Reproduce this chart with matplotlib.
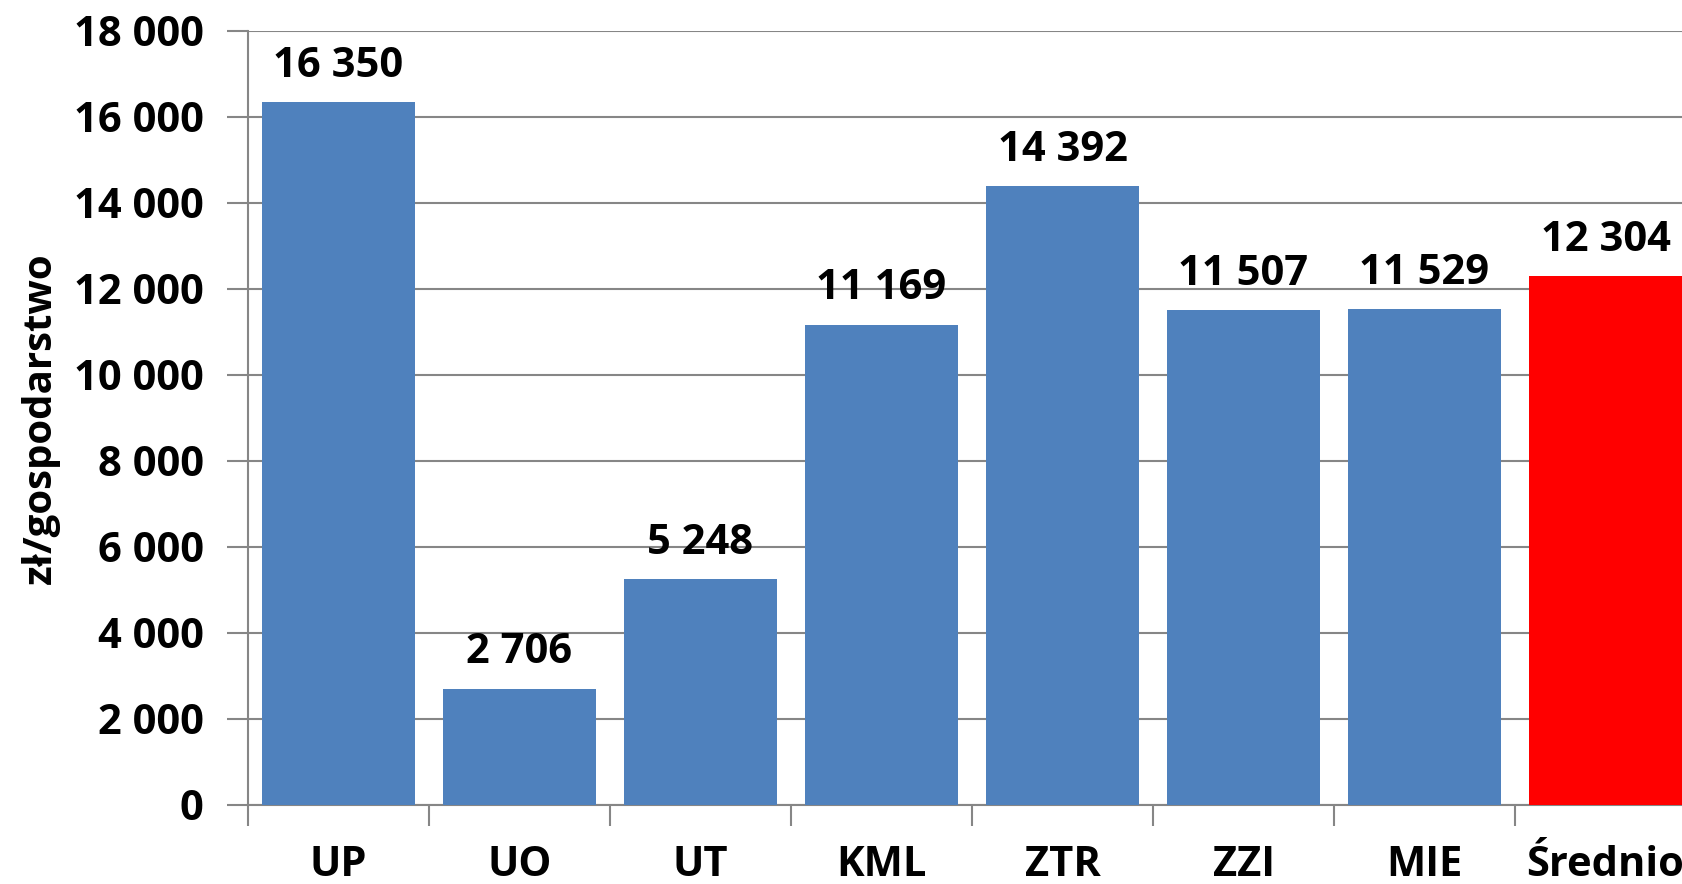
import matplotlib
matplotlib.use("Agg")
import matplotlib.pyplot as plt

categories = ["UP", "UO", "UT", "KML", "ZTR", "ZZI", "MIE", "Średnio"]
values = [16350, 2706, 5248, 11169, 14392, 11507, 11529, 12304]
colors = ["#4F81BD"] * 7 + ["#FF0000"]
yticks = [0, 2000, 4000, 6000, 8000, 10000, 12000, 14000, 16000, 18000]

def fmt(v):
    return f"{v:,}".replace(",", " ")

plt.rcParams['font.family'] = ['Open Sans', 'DejaVu Sans']
plt.rcParams['font.weight'] = 'bold'

fs = 30
fig = plt.figure(figsize=(16.82, 8.84), dpi=100)
W, H = 1682, 884
left_px, right_px = 248, 248 + 8 * 181
top_px, bot_px = 31, 805
ax = fig.add_axes([left_px / W, (H - bot_px) / H, (right_px - left_px) / W, (bot_px - top_px) / H])

x = list(range(len(categories)))
ax.bar(x, values, width=0.845, color=colors, zorder=3)
for xi, v in zip(x, values):
    ax.annotate(fmt(v), (xi, v), xytext=(0, 11), textcoords="offset points",
                ha="center", va="bottom", fontsize=fs, fontweight="bold")

ax.set_xlim(-0.5, len(categories) - 0.5)
ax.set_ylim(0, 18000)
ax.set_yticks(yticks)
ax.set_yticklabels([fmt(v) for v in yticks], fontsize=fs, fontweight="bold")
ax.set_xticks(x)
ax.set_xticklabels(categories, fontsize=fs, fontweight="bold")
ax.tick_params(axis="x", length=0, pad=29)
ax.set_xticks([i - 0.5 for i in range(len(categories) + 1)], minor=True)
ax.tick_params(axis="x", which="minor", length=15, width=1.5, color="#868686")
ax.tick_params(axis="y", length=15, width=1.5, color="#868686", pad=17)
ax.grid(axis="y", color="#868686", linewidth=1.5, zorder=0)
for s in ["top", "right"]:
    ax.spines[s].set_visible(False)
for s in ["left", "bottom"]:
    ax.spines[s].set_color("#868686")
    ax.spines[s].set_linewidth(1.5)
fig.text(40 / W, (H - 418) / H, "zł/gospodarstwo", rotation=90, ha="center", va="center",
         fontsize=29, fontweight="bold")

fig.savefig("out.png", dpi=100)
